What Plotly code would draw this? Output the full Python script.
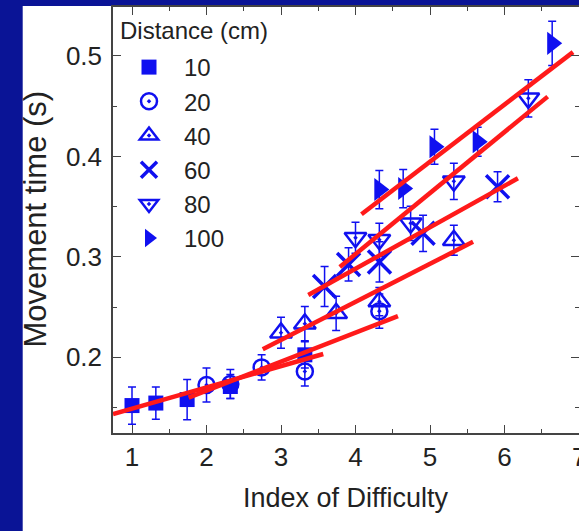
import plotly.graph_objects as go

# ---- data ----
distances = ["10", "20", "40", "60", "80", "100"]

id_10 = [1.0, 1.32, 1.74, 2.32, 3.32]
mt_10 = [0.152, 0.1545, 0.158, 0.171, 0.2025]
err_10 = [0.0185, 0.016, 0.02, 0.012, 0.013]

id_20 = [2.0, 2.32, 2.74, 3.32, 4.32]
mt_20 = [0.1725, 0.1735, 0.19, 0.186, 0.246]
err_20 = [0.017, 0.0145, 0.0125, 0.0145, 0.017]

id_40 = [3.0, 3.32, 3.74, 4.32, 5.32]
mt_40 = [0.2245, 0.2335, 0.2438, 0.2555, 0.3165]
err_40 = [0.0155, 0.017, 0.017, 0.014, 0.015]

id_60 = [3.585, 3.907, 4.322, 4.907, 5.907]
mt_60 = [0.2705, 0.2925, 0.295, 0.3234, 0.3698]
err_60 = [0.02, 0.0165, 0.02, 0.018, 0.015]

id_80 = [4.0, 4.32, 4.74, 5.32, 6.32]
mt_80 = [0.319, 0.317, 0.3334, 0.3752, 0.4578]
err_80 = [0.0155, 0.0165, 0.017, 0.018, 0.0185]

id_100 = [4.32, 4.64, 5.06, 5.64, 6.64]
mt_100 = [0.367, 0.368, 0.4096, 0.4146, 0.5125]
err_100 = [0.019, 0.019, 0.0175, 0.0145, 0.022]

# fitted regression lines (end points)
fit_x0 = [0.745, 1.76, 2.755, 3.366, 3.79, 4.08]
fit_y0 = [0.1435, 0.160, 0.208, 0.262, 0.290, 0.3425]
fit_x1 = [3.567, 4.57, 5.578, 6.18, 6.58, 6.92]
fit_y1 = [0.2033, 0.2411, 0.315, 0.3782, 0.4595, 0.5038]

x_ticks = [1, 2, 3, 4, 5, 6, 7]
y_ticks = [0.2, 0.3, 0.4, 0.5]

# ---- styles ----
BLUE = "#1010f0"
RED = "#ff1a1a"
BG = "#0a1496"
FONT = "Liberation Sans, Arial, sans-serif"
TXT = "#222222"

series = [
    (id_10, mt_10, err_10, dict(symbol="square", size=15, color=BLUE)),
    (id_20, mt_20, err_20, dict(symbol="circle-open-dot", size=16, color=BLUE, line=dict(width=2.5, color=BLUE))),
    (id_40, mt_40, err_40, dict(symbol="triangle-up-open-dot", size=19, color=BLUE, line=dict(width=2.5, color=BLUE))),
    (id_60, mt_60, err_60, dict(symbol="x-thin-open", size=23, color=BLUE, line=dict(width=3.5, color=BLUE))),
    (id_80, mt_80, err_80, dict(symbol="triangle-down-open-dot", size=19, color=BLUE, line=dict(width=2.5, color=BLUE))),
    (id_100, mt_100, err_100, dict(symbol="triangle-right", size=20, color=BLUE)),
]

fig = go.Figure()

for name, (xs, ys, es, mk) in zip(distances, series):
    fig.add_trace(go.Scatter(
        x=xs, y=ys, mode="markers", name=name, marker=mk,
        error_y=dict(type="data", array=es, visible=True, color=BLUE, thickness=1.5, width=4),
        cliponaxis=False,
    ))

for i in range(len(fit_x0)):
    fig.add_trace(go.Scatter(
        x=[fit_x0[i], fit_x1[i]], y=[fit_y0[i], fit_y1[i]], mode="lines",
        line=dict(color=RED, width=4.5), showlegend=False, hoverinfo="skip",
    ))

W, H = 579, 531
ML, MR, MT, MB = 113, 0, 7, 98
pw = W - ML - MR
ph = H - MT - MB

def px_x(p):
    return (p - ML) / pw

def px_y(p):
    return (H - MB - p) / ph

shapes = [
    dict(type="rect", xref="paper", yref="paper", x0=px_x(-5), x1=px_x(22.7),
         y0=px_y(H + 5), y1=px_y(-5), fillcolor=BG, line=dict(width=0), layer="below"),
    dict(type="rect", xref="paper", yref="paper", x0=px_x(-5), x1=px_x(W + 5),
         y0=px_y(6), y1=px_y(-5), fillcolor=BG, line=dict(width=0), layer="below"),
]

axis_common = dict(
    showgrid=False, zeroline=False, showline=True, linecolor="#444444", linewidth=1.5,
    mirror="ticks", ticks="inside", ticklen=8, tickwidth=1.3, tickcolor="#444444",
    tickfont=dict(family=FONT, size=26, color=TXT), automargin=False,
)

fig.update_layout(
    width=W, height=H,
    margin=dict(l=ML, r=MR, t=MT, b=MB, pad=0),
    paper_bgcolor="white", plot_bgcolor="white",
    template="none",
    showlegend=True,
    legend=dict(
        x=px_x(114), y=px_y(45), xanchor="left", yanchor="top",
        bgcolor="rgba(0,0,0,0)", borderwidth=0,
        font=dict(family=FONT, size=24, color=TXT),
        itemwidth=60, tracegroupgap=0,
    ),
    xaxis=dict(range=[0.745, 7.0], tickvals=x_ticks, ticktext=[str(v) for v in x_ticks],
               minor=dict(dtick=0.5, tick0=0, ticks="inside", ticklen=4, tickcolor="#444444", tickwidth=1.2),
               **axis_common),
    yaxis=dict(range=[0.1247, 0.5487], tickvals=y_ticks, ticktext=[f"{v:.1f}" for v in y_ticks],
               minor=dict(dtick=0.05, tick0=0, ticks="inside", ticklen=4, tickcolor="#444444", tickwidth=1.2),
               ticklabelstandoff=4,
               **axis_common),
    shapes=shapes,
    annotations=[
        dict(text="Distance (cm)", xref="paper", yref="paper", x=px_x(118), y=px_y(30),
             xanchor="left", yanchor="middle", showarrow=False,
             font=dict(family=FONT, size=24, color=TXT)),
        dict(text=str(x_ticks[-1]), xref="x", yref="paper", x=x_ticks[-1], y=px_y(457),
             xanchor="center", yanchor="middle", showarrow=False,
             font=dict(family=FONT, size=26, color=TXT)),
        dict(text="Index of Difficulty", xref="paper", yref="paper", x=0.5, y=px_y(498),
             xanchor="center", yanchor="middle", showarrow=False,
             font=dict(family=FONT, size=27, color=TXT)),
        dict(text="Movement time (s)", xref="paper", yref="paper", x=px_x(35.5), y=px_y(219),
             xanchor="center", yanchor="middle", showarrow=False, textangle=-90,
             font=dict(family=FONT, size=31, color=TXT)),
    ],
)

fig.write_html("out.html")
